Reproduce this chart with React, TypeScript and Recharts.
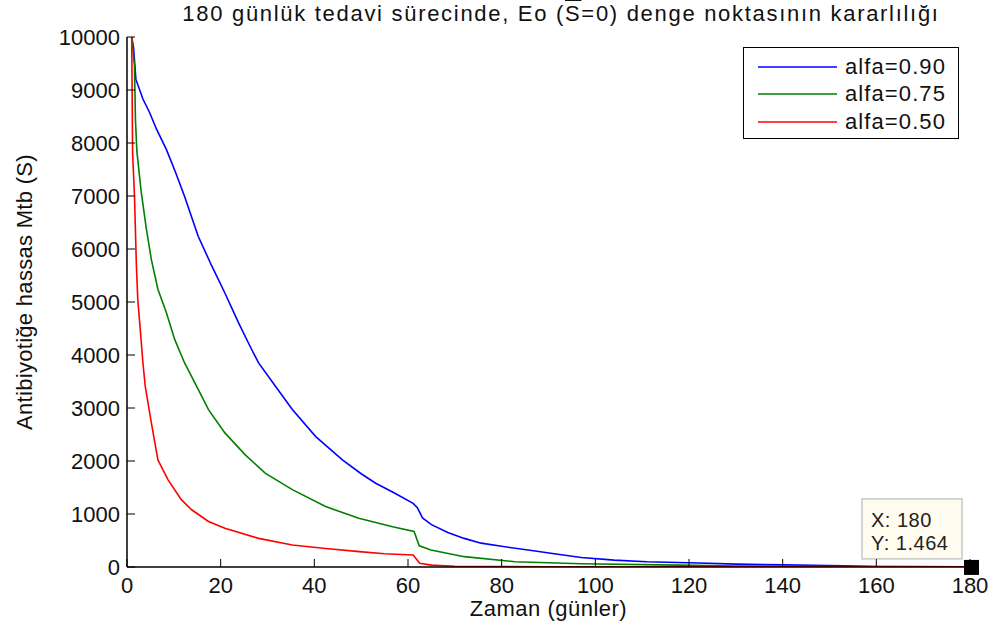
import { LineChart, Line, XAxis, YAxis, Legend, ReferenceDot } from "recharts";

const FONT = "'Liberation Sans', Arial, sans-serif";
const INK = "#111";

const xTicks = [0, 20, 40, 60, 80, 100, 120, 140, 160, 180];
const yTicks = [0, 1000, 2000, 3000, 4000, 5000, 6000, 7000, 8000, 9000, 10000];

// alfa = 0.90
const blueT = [1, 1.4, 1.9, 3.4, 4.8, 6.3, 8.4, 10.4, 12.3, 15.2, 18.1, 20.9, 23.8, 26.3, 28.1, 31.7, 35.3, 40.3, 46, 50, 53.1, 57, 61.1, 62, 63.1, 65, 68.5, 72, 75.6, 80, 86.4, 92, 97, 104, 111, 122, 130, 140, 153, 160, 180];
const blueS = [10000, 9800, 9200, 8830, 8580, 8260, 7880, 7440, 6990, 6240, 5680, 5170, 4610, 4160, 3850, 3410, 2970, 2460, 2020, 1760, 1580, 1400, 1200, 1120, 925, 800, 650, 540, 450, 390, 310, 240, 180, 130, 100, 75, 55, 40, 25, 10, 1.5];

// alfa = 0.75
const greenT = [1, 1.6, 1.8, 2.1, 3, 4.1, 5.2, 6.6, 8.4, 10.2, 12.3, 15.2, 17.4, 20.9, 25.2, 29.5, 35.3, 42.4, 49.5, 56.7, 61.3, 62.4, 64.9, 72, 82.8, 97, 118, 130, 150, 180];
const greenS = [10000, 9460, 8450, 7850, 7100, 6400, 5800, 5240, 4800, 4290, 3850, 3350, 2970, 2530, 2120, 1770, 1460, 1140, 920, 760, 670, 400, 320, 195, 100, 60, 35, 20, 8, 1.5];

// alfa = 0.50
const redT = [1, 1.2, 1.6, 2, 2.3, 3, 3.4, 3.9, 5.2, 6.6, 8.8, 11.6, 13.8, 17.4, 20.9, 28.1, 35.3, 42.4, 49.6, 55, 61.1, 62.5, 65, 70, 90, 180];
const redS = [10000, 7800, 7000, 5700, 5050, 4300, 3850, 3410, 2720, 2020, 1640, 1270, 1080, 860, 730, 540, 415, 350, 290, 250, 225, 70, 35, 15, 5, 1.464];

const tipX = 180;
const tipY = 1.464;

const series = [
  { name: "alfa=0.90", color: "#0000ff", t: blueT, s: blueS },
  { name: "alfa=0.75", color: "#008000", t: greenT, s: greenS },
  { name: "alfa=0.50", color: "#ff0000", t: redT, s: redS },
];
const seriesOrder = series.map((s) => s.name);

const BottomTick = ({ x, y, payload }: any) => (
  <g>
    <line x1={x} y1={y} x2={x} y2={y - 8} stroke="#000" />
    <text x={x} y={y + 26} textAnchor="middle" fontSize={22} fontFamily={FONT} fill={INK}>
      {payload.value}
    </text>
  </g>
);

const LeftTick = ({ x, y, payload }: any) => (
  <g>
    <line x1={x} y1={y} x2={x + 8} y2={y} stroke="#000" />
    <text x={x - 7} y={y + 8} textAnchor="end" fontSize={22} fontFamily={FONT} fill={INK}>
      {payload.value}
    </text>
  </g>
);

const TopTick = ({ x, y }: any) => <line x1={x} y1={y} x2={x} y2={y + 8} stroke="#000" />;
const RightTick = ({ x, y }: any) => <line x1={x} y1={y} x2={x - 8} y2={y} stroke="#000" />;

const YLabel = ({ viewBox }: any) => {
  const cx = 24;
  const cy = viewBox.y + viewBox.height / 2 - 10;
  return (
    <text
      x={cx}
      y={cy}
      transform={`rotate(-90, ${cx}, ${cy})`}
      textAnchor="middle"
      dominantBaseline="central"
      fontSize={22}
      letterSpacing={0.3}
      fontFamily={FONT}
      fill={INK}
    >
      Antibiyotiğe hassas Mtb (S)
    </text>
  );
};

const XLabel = ({ viewBox }: any) => (
  <text
    x={viewBox.x + viewBox.width / 2}
    y={viewBox.y + 49}
    textAnchor="middle"
    fontSize={22}
    letterSpacing={0.5}
    fontFamily={FONT}
    fill={INK}
  >
    Zaman (günler)
  </text>
);

const LegendBox = ({ payload }: any) => {
  const items = [...(payload || [])].sort(
    (a: any, b: any) => seriesOrder.indexOf(a.value) - seriesOrder.indexOf(b.value)
  );
  return (
    <div
      style={{
        width: 216,
        height: 92,
        border: "1.5px solid #000",
        background: "#fff",
        boxSizing: "border-box",
        paddingTop: 5,
      }}
    >
      {items.map((p: any) => (
        <div key={p.value} style={{ display: "flex", alignItems: "center", height: 27.5 }}>
          <svg width={100} height={10} style={{ marginLeft: 14 }}>
            <line x1={0} y1={5} x2={79} y2={5} stroke={p.color} strokeWidth={1.5} />
          </svg>
          <span style={{ fontFamily: FONT, fontSize: 22, letterSpacing: 1.1, color: INK, marginLeft: -13 }}>
            {p.value}
          </span>
        </div>
      ))}
    </div>
  );
};

const CursorTip = ({ cx, cy }: any) => (
  <g>
    <rect x={cx - 108} y={cy - 68} width={100} height={60} fill="#fffbee" stroke="#c8c8c8" strokeWidth={1.5} />
    <text x={cx - 99} y={cy - 40} fontSize={20} letterSpacing={0.5} fontFamily={FONT} fill="#222">
      {`X: ${tipX}`}
    </text>
    <text x={cx - 99} y={cy - 17} fontSize={20} letterSpacing={0.5} fontFamily={FONT} fill="#222">
      {`Y: ${tipY}`}
    </text>
    <rect x={cx - 6} y={cy - 7} width={15} height={15} fill="#000" />
  </g>
);

export default function App() {
  return (
    <div style={{ position: "absolute", left: 0, top: 0, width: 994, height: 629, background: "#fff" }}>
      <div
        style={{
          position: "absolute",
          left: 61,
          width: 1000,
          top: 1,
          textAlign: "center",
          fontFamily: FONT,
          fontSize: 22,
          letterSpacing: 1.7,
          color: INK,
          whiteSpace: "nowrap",
          zIndex: 2,
        }}
      >
        180 günlük tedavi sürecinde, Eo (<span style={{ textDecoration: "overline" }}>S</span>=0) denge noktasının
        kararlılığı
      </div>
      <LineChart width={994} height={629} margin={{ top: 37, right: 24, left: 0, bottom: 0 }}>
        <XAxis
          dataKey="t"
          type="number"
          domain={[0, 180]}
          ticks={xTicks}
          interval={0}
          allowDataOverflow
          height={62}
          tickSize={0}
          tickMargin={0}
          tickLine={false}
          axisLine={{ stroke: "#000", strokeWidth: 1.5 }}
          tick={<BottomTick />}
          label={<XLabel />}
        />
        <XAxis
          xAxisId="top"
          orientation="top"
          type="number"
          domain={[0, 180]}
          ticks={xTicks}
          interval={0}
          height={0}
          tickSize={0}
          tickMargin={0}
          tickLine={false}
          axisLine={{ stroke: "#000", strokeWidth: 1.5 }}
          tick={<TopTick />}
        />
        <YAxis
          type="number"
          domain={[0, 10000]}
          ticks={yTicks}
          interval={0}
          allowDataOverflow
          width={127}
          tickSize={0}
          tickMargin={0}
          tickLine={false}
          axisLine={{ stroke: "#000", strokeWidth: 1.5 }}
          tick={<LeftTick />}
          label={<YLabel />}
        />
        <YAxis
          yAxisId="right"
          orientation="right"
          type="number"
          domain={[0, 10000]}
          ticks={yTicks}
          interval={0}
          width={0}
          tickSize={0}
          tickMargin={0}
          tickLine={false}
          axisLine={{ stroke: "#000", strokeWidth: 1.5 }}
          tick={<RightTick />}
        />
        {series.map((sr) => (
          <Line
            key={sr.name}
            name={sr.name}
            data={sr.t.map((t, i) => ({ t, S: sr.s[i] }))}
            dataKey="S"
            type="linear"
            stroke={sr.color}
            strokeWidth={1.6}
            dot={false}
            activeDot={false}
            isAnimationActive={false}
          />
        ))}
        <Legend
          layout="vertical"
          verticalAlign="middle"
          align="center"
          content={<LegendBox />}
          wrapperStyle={{ left: 743, top: 47, width: 216 }}
        />
        <ReferenceDot x={tipX} y={tipY} ifOverflow="visible" shape={<CursorTip />} />
      </LineChart>
    </div>
  );
}
